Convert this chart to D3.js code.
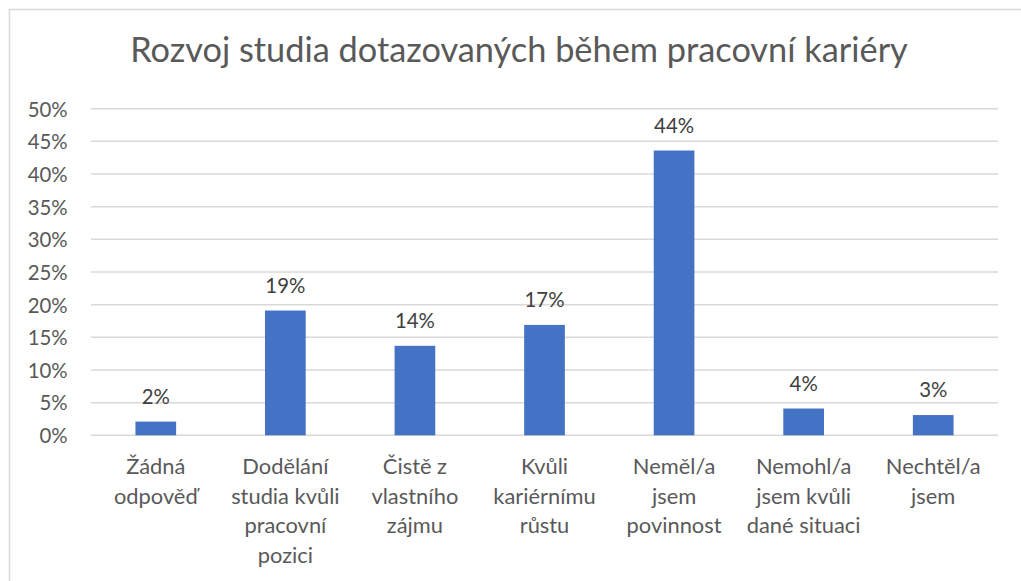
<!DOCTYPE html>
<html><head><meta charset="utf-8">
<script src="https://cdn.jsdelivr.net/npm/d3@7"></script>
<style>html,body{margin:0;padding:0;background:#fff;}svg{display:block;}</style>
</head><body>
<svg id="chart" width="1021" height="581"></svg>
<script>
const title = "Rozvoj studia dotazovaných během pracovní kariéry";
const categories = ["Žádná odpověď","Dodělání studia kvůli pracovní pozici","Čistě z vlastního zájmu","Kvůli kariérnímu růstu","Neměl/a jsem povinnost","Nemohl/a jsem kvůli dané situaci","Nechtěl/a jsem"];
const categoryLines = [["Žádná","odpověď"],["Dodělání","studia kvůli","pracovní","pozici"],["Čistě z","vlastního","zájmu"],["Kvůli","kariérnímu","růstu"],["Neměl/a","jsem","povinnost"],["Nemohl/a","jsem kvůli","dané situaci"],["Nechtěl/a","jsem"]];
const values = [0.021, 0.191, 0.137, 0.169, 0.436, 0.041, 0.031];
const valueLabels = ["2%","19%","14%","17%","44%","4%","3%"];
const yTicks = [0,0.05,0.10,0.15,0.20,0.25,0.30,0.35,0.40,0.45,0.50];
const yTickLabels = ["0%","5%","10%","15%","20%","25%","30%","35%","40%","45%","50%"];

const FONT = "Lato, 'Open Sans', sans-serif";
const svg = d3.select("#chart");

// measure helper
function fitSize(text, targetWidth) {
  const t = svg.append("text").attr("font-family", FONT).attr("font-size", 100).text(text);
  const w = t.node().getComputedTextLength();
  t.remove();
  return 100 * targetWidth / w;
}

// chart border
svg.append("rect").attr("x", 9.5).attr("y", 9.5).attr("width", 1100).attr("height", 700)
  .attr("fill", "#fff").attr("stroke", "#d9d9d9").attr("stroke-width", 1.5);

const plot = {left: 91, right: 998, top: 108.7, bottom: 435.3};
const x = d3.scaleBand().domain(categories).range([plot.left, plot.right]).padding(0);
const y = d3.scaleLinear().domain([0, 0.5]).range([plot.bottom, plot.top]);
const barW = x.step() * 0.314;

const labelSize = fitSize("povinnost", 95);
const tickSize = fitSize("50%", 40);
const titleSize = fitSize(title, 778);

// title
svg.append("text").attr("x", 519).attr("y", 62.3).attr("text-anchor", "middle")
  .attr("font-family", FONT).attr("font-size", titleSize).attr("fill", "#595959").text(title);

// gridlines
svg.append("g").selectAll("line").data(yTicks).join("line")
  .attr("x1", plot.left).attr("x2", plot.right)
  .attr("y1", d => y(d)).attr("y2", d => y(d))
  .attr("stroke", "#d9d9d9").attr("stroke-width", 1.5);

// y axis labels
const yAxis = d3.axisLeft(y).tickValues(yTicks).tickFormat((d, i) => yTickLabels[i]).tickSize(0).tickPadding(0);
const gy = svg.append("g").attr("transform", `translate(${67.7},0)`).call(yAxis);
gy.select(".domain").remove();
gy.selectAll("text").attr("font-family", FONT).attr("font-size", tickSize).attr("fill", "#595959").attr("dy", "0.36em");

// bars
svg.append("g").selectAll("rect").data(values).join("rect")
  .attr("x", (d, i) => x(categories[i]) + x.bandwidth() / 2 - barW / 2)
  .attr("width", barW)
  .attr("y", d => y(d))
  .attr("height", d => y(0) - y(d))
  .attr("fill", "#4472c4");

// value labels
svg.append("g").selectAll("text").data(values).join("text")
  .attr("x", (d, i) => x(categories[i]) + x.bandwidth() / 2)
  .attr("y", d => y(d) - 18)
  .attr("text-anchor", "middle").attr("font-family", FONT).attr("font-size", tickSize)
  .attr("fill", "#404040").text((d, i) => valueLabels[i]);

// x category labels
const gx = svg.append("g");
categories.forEach((c, i) => {
  const t = gx.append("text").attr("text-anchor", "middle").attr("font-family", FONT)
    .attr("font-size", labelSize).attr("fill", "#595959");
  categoryLines[i].forEach((ln, j) => {
    t.append("tspan").attr("x", x(c) + x.bandwidth() / 2).attr("y", 474 + j * 29.5).text(ln);
  });
});
</script>
</body></html>
